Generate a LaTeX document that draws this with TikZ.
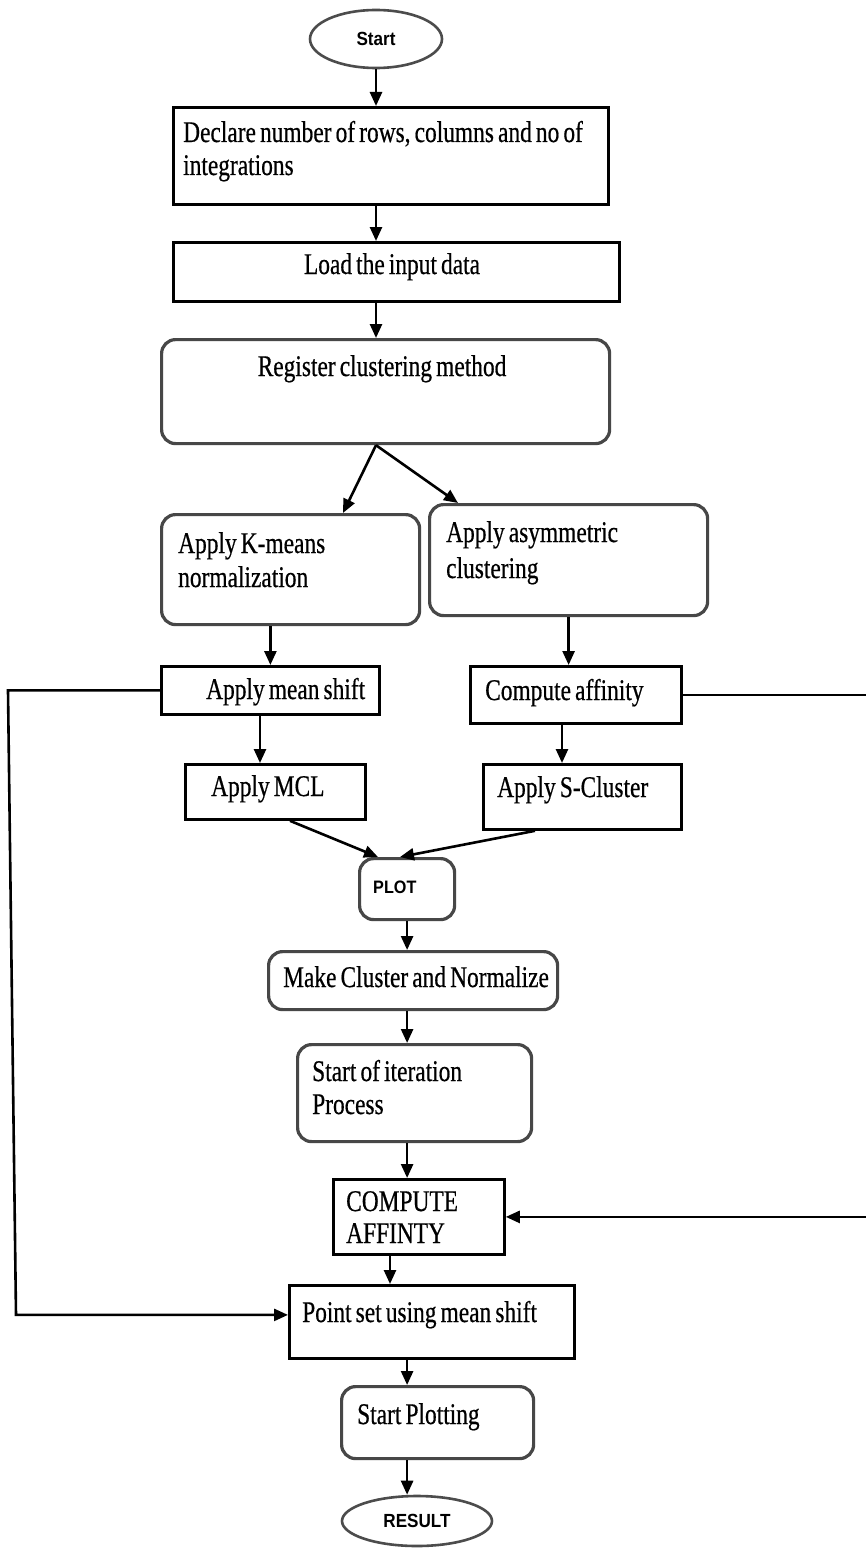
\documentclass[tikz,border=0pt]{standalone}
\usepackage{fontspec}
\setmainfont{Liberation Serif}[FakeStretch=0.78, WordSpace=0.7, FakeBold=0.5]
\newfontfamily\tagfont{Liberation Sans}[FakeStretch=0.9]
\usetikzlibrary{arrows.meta,shapes.geometric,calc}

\begin{document}
\begin{tikzpicture}[x=1pt,y=-1pt,
  box/.style={draw=black, line width=2.8pt, inner sep=0pt, anchor=north west},
  rbox/.style={box, draw=black!72, line width=3.2pt, rounded corners=14pt},
  term/.style={ellipse, draw=black!70, line width=2.6pt, inner sep=0pt,
    font=\tagfont\bfseries\fontsize{19}{20}\selectfont},
  txt/.style={anchor=base west, inner sep=0pt, font=\fontsize{30}{33}\selectfont},
  ctxt/.style={txt, anchor=base},
  tag/.style={anchor=base west, inner sep=0pt, font=\tagfont\bfseries\fontsize{18}{19}\selectfont},
  arr/.style={line width=2.6pt, -{Triangle[length=14pt,width=12pt]}},
]
\fill[white] (0,0) rectangle (865,1552);
\useasboundingbox (0,0) rectangle (865,1552);

% terminals
\node[term, minimum width=132pt, minimum height=58pt] (start) at (376,39) {Start};
\node[term, minimum width=150pt, minimum height=50pt] (result) at (417,1521) {RESULT};

% process boxes and their labels
\node[box, minimum width=435pt, minimum height=97pt] (decl) at (172,106) {};
\node[txt] (decl1) at (183,142) {Declare number of rows, columns and no of};
\node[txt] (decl2) at (183,175) {integrations};

\node[box, minimum width=446pt, minimum height=59pt] (load) at (172,241) {};
\node[ctxt] (loadT) at (392,274) {Load the input data};

\node[rbox, minimum width=448pt, minimum height=104pt] (reg) at (160,338) {};
\node[ctxt] (regT) at (382,376) {Register clustering method};

\node[rbox, minimum width=258pt, minimum height=110pt] (km) at (160,513) {};
\node[txt] (km1) at (178,553) {Apply K-means};
\node[txt] (km2) at (178,587) {normalization};

\node[rbox, minimum width=278pt, minimum height=111pt] (asym) at (428,503) {};
\node[txt] (asym1) at (446,542) {Apply asymmetric};
\node[txt] (asym2) at (446,578) {clustering};

\node[box, minimum width=218pt, minimum height=48pt] (ms) at (160,665) {};
\node[txt] (msT) at (206,699) {Apply mean shift};

\node[box, minimum width=211pt, minimum height=57pt] (ca) at (469,665) {};
\node[txt] (caT) at (485,700) {Compute affinity};

\node[box, minimum width=180pt, minimum height=55pt] (mcl) at (184,763) {};
\node[txt] (mclT) at (211,796) {Apply MCL};

\node[box, minimum width=198pt, minimum height=65pt] (sc) at (482,763) {};
\node[txt] (scT) at (497,797) {Apply S-Cluster};

\node[rbox, minimum width=95pt, minimum height=61pt] (plot) at (358,857) {};
\node[tag] (plotT) at (373,893) {PLOT};

\node[rbox, minimum width=289pt, minimum height=58pt] (make) at (267,950) {};
\node[txt] (makeT) at (283,987) {Make Cluster and Normalize};

\node[rbox, minimum width=234pt, minimum height=97pt] (iter) at (296,1043) {};
\node[txt] (iter1) at (312,1081) {Start of iteration};
\node[txt] (iter2) at (312,1114) {Process};

\node[box, minimum width=171pt, minimum height=75pt] (caff) at (332,1178) {};
\node[txt] (caff1) at (346,1211) {COMPUTE};
\node[txt] (caff2) at (346,1243) {AFFINTY};

\node[box, minimum width=285pt, minimum height=73pt] (pts) at (288,1284) {};
\node[txt] (ptsT) at (302,1322) {Point set using mean shift};

\node[rbox, minimum width=192pt, minimum height=72pt] (splot) at (340,1385) {};
\node[txt] (splotT) at (357,1424) {Start Plotting};

% helper points for the connectors
\coordinate (fork) at (reg.south -| start);
\coordinate (msout) at ([xshift=100pt]ms.south west);
\coordinate (caout) at ([xshift=93pt]ca.south west);
\coordinate (caffout) at ([xshift=58pt]caff.south west);
\coordinate (ptsin) at ([yshift=7pt]pts.west);
\coordinate (lt) at (8,0);
\coordinate (lb) at (16,0);
\coordinate (rr) at (868,0);

% main flow
\draw[arr] (start.south) -- (start.south |- decl.north);
\draw[arr] (decl.south -| start) -- (load.north -| start);
\draw[arr] (load.south -| start) -- (reg.north -| start);
\draw[arr] (fork) -- ([xshift=183pt]km.north west);
\draw[arr] (fork) -- ([xshift=30pt]asym.north west);
\draw[arr] (ms.north |- km.south) -- (ms.north);
\draw[arr] (asym.south) -- (asym.south |- ca.north);
\draw[arr] (msout) -- (msout |- mcl.north);
\draw[arr] (caout) -- (caout |- sc.north);
\draw[arr] ([xshift=106pt]mcl.south west) -- ([xshift=20pt]plot.north west);
\draw[arr] ([xshift=53pt]sc.south west) -- ([xshift=42pt]plot.north west);
\draw[arr] (plot.south) -- (plot.south |- make.north);
\draw[arr] (plot.south |- make.south) -- (plot.south |- iter.north);
\draw[arr] (plot.south |- iter.south) -- (plot.south |- caff.north);
\draw[arr] (caffout) -- (caffout |- pts.north);
\draw[arr] (plot.south |- pts.south) -- (plot.south |- splot.north);
\draw[arr] (plot.south |- splot.south) -- (plot.south |- result.north);

% feedback lines
\draw[arr] (ms.west) -- (ms.west -| lt) -- (ptsin -| lb) -- (ptsin);
\draw[arr] (ca.east) -- (ca.east -| rr) -- (caff.east -| rr) -- (caff.east);
\end{tikzpicture}
\end{document}
